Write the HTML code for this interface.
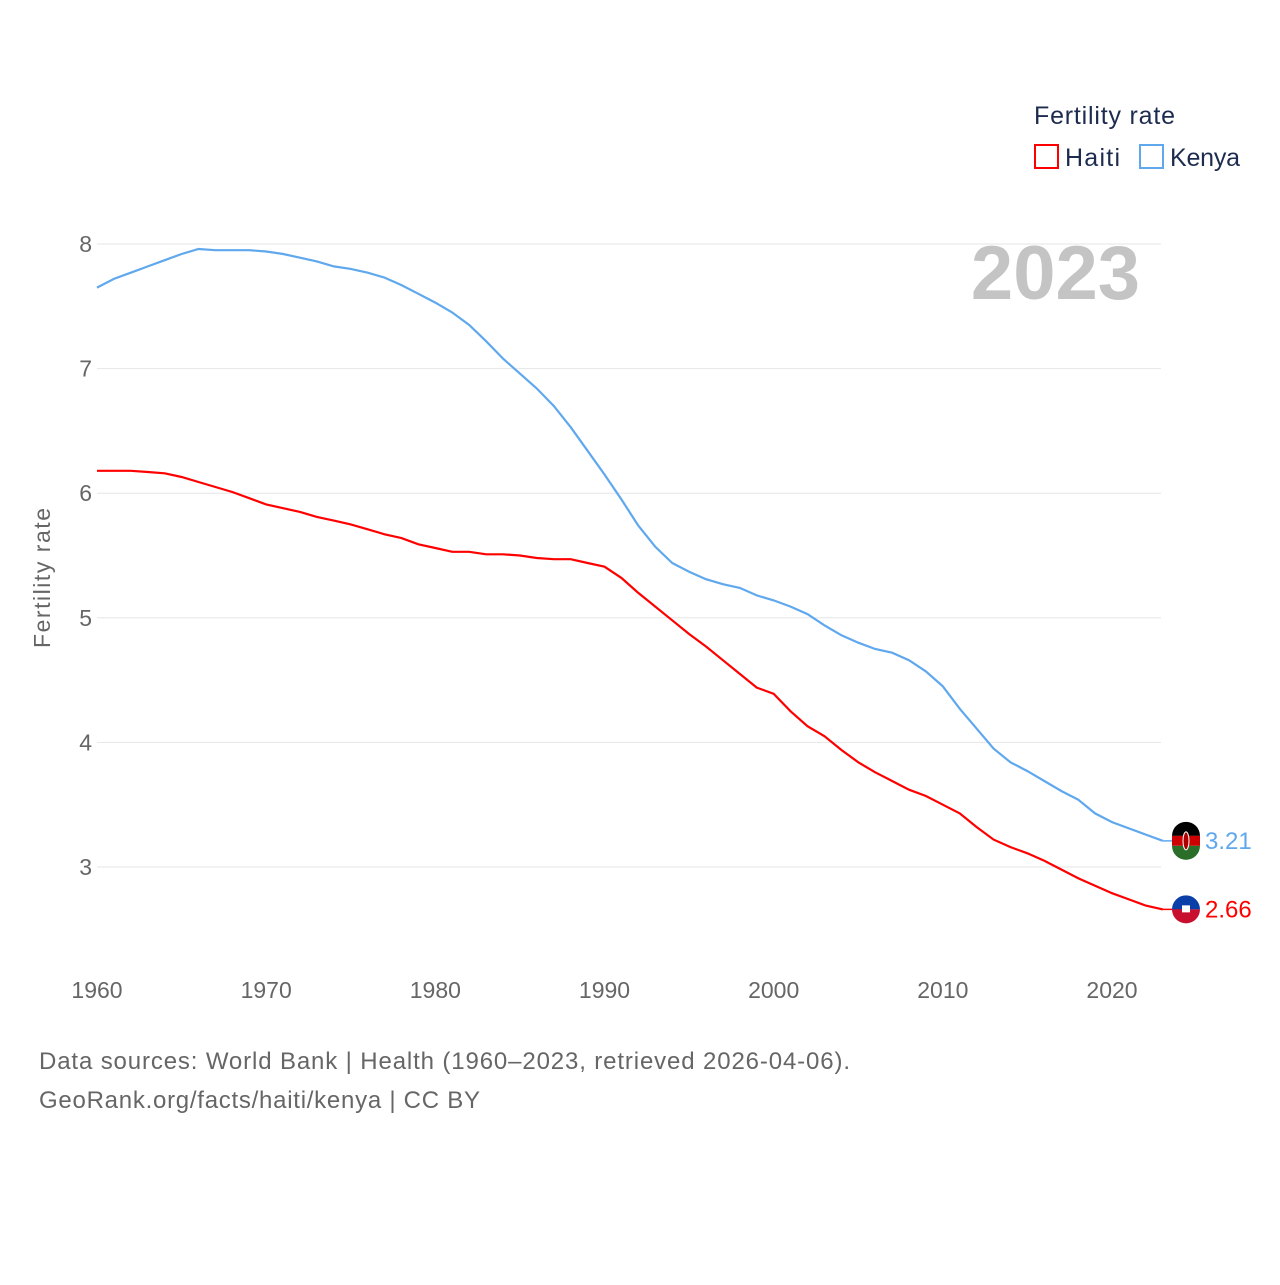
<!DOCTYPE html>
<html><head><meta charset="utf-8"><style>
body{margin:0;background:#fff;}
svg text{font-family:"Liberation Sans",sans-serif;}
</style></head><body>
<svg width="1280" height="1280" viewBox="0 0 1280 1280">
<g id="grid"></g>
<g id="yticks"></g>
<g id="xticks"></g>
<text x="50" y="578" transform="rotate(-90 50 578)" text-anchor="middle" font-size="23" textLength="140" fill="#666">Fertility rate</text>
<text x="1140" y="299" text-anchor="end" font-size="76" font-weight="bold" fill="#c4c4c4">2023</text>
<g>
<text x="1034" y="124" font-size="25" textLength="141" fill="#1d2b4f">Fertility rate</text>
<g><rect x="1035" y="145" width="23" height="23" fill="none" stroke="#f00" stroke-width="2"/><text x="1065" y="166" font-size="25" textLength="55" fill="#1d2b4f">Haiti</text></g>
<g><rect x="1140" y="145" width="23" height="23" fill="none" stroke="#5fa8ee" stroke-width="2"/><text x="1170" y="166" font-size="25" textLength="70" fill="#1d2b4f">Kenya</text></g>
</g>
<g id="series"></g>
<g id="ends"></g>
<text x="39" y="1069" font-size="24" textLength="811" fill="#666">Data sources: World Bank | Health (1960–2023, retrieved 2026-04-06).</text>
<text x="39" y="1108" font-size="24" textLength="441" fill="#666">GeoRank.org/facts/haiti/kenya | CC BY</text>
</svg>
<script>
const years=[];for(let y=1960;y<=2023;y++)years.push(y);
const kenya=[7.65,7.72,7.77,7.82,7.87,7.92,7.96,7.95,7.95,7.95,7.94,7.92,7.89,7.86,7.82,7.80,7.77,7.73,7.67,7.60,7.53,7.45,7.35,7.22,7.08,6.96,6.84,6.70,6.53,6.34,6.15,5.95,5.74,5.57,5.44,5.37,5.31,5.27,5.24,5.18,5.14,5.09,5.03,4.94,4.86,4.80,4.75,4.72,4.66,4.57,4.45,4.27,4.11,3.95,3.84,3.77,3.69,3.61,3.54,3.43,3.36,3.31,3.26,3.21];
const haiti=[6.18,6.18,6.18,6.17,6.16,6.13,6.09,6.05,6.01,5.96,5.91,5.88,5.85,5.81,5.78,5.75,5.71,5.67,5.64,5.59,5.56,5.53,5.53,5.51,5.51,5.50,5.48,5.47,5.47,5.44,5.41,5.32,5.20,5.09,4.98,4.87,4.77,4.66,4.55,4.44,4.39,4.25,4.13,4.05,3.94,3.84,3.76,3.69,3.62,3.57,3.50,3.43,3.32,3.22,3.16,3.11,3.05,2.98,2.91,2.85,2.79,2.74,2.69,2.66];
const yTicks=[3,4,5,6,7,8];
const xTicks=[1960,1970,1980,1990,2000,2010,2020];
const NS="http://www.w3.org/2000/svg";
const X=y=>97+(y-1960)*(1015/60);
const Y=v=>867-(v-3)*124.6;
function mk(t,a,p,txt){const e=document.createElementNS(NS,t);for(const k in a)e.setAttribute(k,a[k]);if(txt!=null)e.textContent=txt;p.appendChild(e);return e;}
const g=document.getElementById('grid'),yt=document.getElementById('yticks'),xt=document.getElementById('xticks');
yTicks.forEach(v=>{
 const l=mk('line',{x1:97,x2:1161,y1:Y(v),y2:Y(v),stroke:'#e6e6e6','stroke-width':1},g);
 
 
 const t=mk('text',{x:92,y:Y(v)+8,'text-anchor':'end','font-size':23,fill:'#666'},yt,v);
 
 
});
xTicks.forEach(v=>{
 const t=mk('text',{x:X(v),y:998,'text-anchor':'middle','font-size':23,fill:'#666'},xt,v);
 
 
});
const s=document.getElementById('series'),en=document.getElementById('ends');
[[haiti,'#f00','haiti'],[kenya,'#5fa8ee','kenya']].forEach(([d,c,n])=>{
 const p=mk('path',{d:d.map((v,i)=>(i?'L':'M')+X(years[i]).toFixed(1)+','+Y(v).toFixed(1)).join(''),fill:'none',stroke:c,'stroke-width':2.2},s);
 
 
 const last=d[d.length-1],lx=X(years[years.length-1]),ly=Y(last);
 mk('line',{x1:lx,x2:1186,y1:ly,y2:ly,stroke:c,'stroke-width':1.5},en);
 const fg=mk('g',{},en);
 
 
 if(n==='haiti'){
  mk('path',{d:`M1172,${ly} a14,14 0 0 1 28,0 z`,fill:'#0a3fa8'},fg);
  mk('path',{d:`M1172,${ly} a14,14 0 0 0 28,0 z`,fill:'#c8102e'},fg);
  mk('rect',{x:1182,y:ly-4,width:8,height:7,fill:'#fff'},fg);
 }else{
  mk('path',{d:`M1172,${ly-5} a14,14 0 0 1 28,0 z`,fill:'#000'},fg);
  mk('rect',{x:1172,y:ly-5,width:28,height:10,fill:'#c00'},fg);
  mk('path',{d:`M1172,${ly+5} a14,14 0 0 0 28,0 z`,fill:'#2a6e2a'},fg);
  mk('ellipse',{cx:1186,cy:ly,rx:3,ry:9,fill:'#a00',stroke:'#fff','stroke-width':1},fg);
 }
 const t=mk('text',{x:1205,y:ly+8,'font-size':24,fill:c},en,last.toFixed(2));
 
 
});
</script>
</body></html>
